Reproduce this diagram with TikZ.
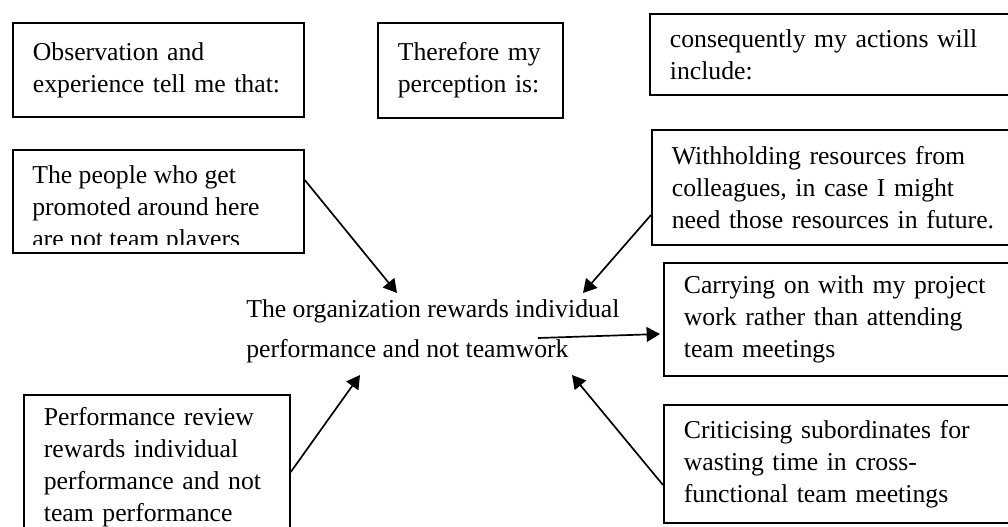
\documentclass[tikz,border=0pt]{standalone}
\usepackage{fontspec}
\setmainfont{Liberation Serif}
\usetikzlibrary{arrows.meta,calc}

\begin{document}
\begin{tikzpicture}[x=0.025cm,y=-0.025cm,
    box/.style={draw,line width=1.2pt,anchor=north west,align=left,inner xsep=0.5cm,inner ysep=0pt,
      font=\fontsize{18.3pt}{22.8pt}\selectfont},
    arr/.style={-{Triangle[length=9.5pt,width=10.5pt]},line width=1.2pt}]

    % Frame
    \clip (0,0) rectangle (1008,527);

    % Heading boxes
    \node[box,text width=6.275cm,minimum height=2.35cm] (obs) at (12,22) {Observation and\\experience tell me that:};
    \node[box,text width=3.625cm,minimum height=2.375cm] (perc) at (377,22) {Therefore my\\perception is:};
    \node[box,text width=9.5cm,minimum height=2.025cm] (cons) at (649,13) {consequently my actions will\\include:};

    % Observation boxes
    \node[box,text width=6.275cm,minimum height=2.575cm] (peoplebox) at (12,149) {};
    \begin{scope}
      \clip (12,149) rectangle (303,244);
      \node[anchor=north west,inner sep=0pt,align=left,font=\fontsize{18.3pt}{22.8pt}\selectfont] (people) at (32,165) {The people who get\\promoted around here\\are not team players};
    \end{scope}
    \node[box,text width=5.65cm,minimum height=3.6cm] (perf) at (23,394) {Performance review\\rewards individual\\performance and not\\team performance};

    % Perception
    \node[anchor=north west,inner sep=0pt,align=left,font=\fontsize{18.3pt}{28.45pt}\selectfont] (org) at (246,299) {The organization rewards individual\\performance and not teamwork};

    % Action boxes
    \node[box,text width=9.5cm,minimum height=2.875cm] (with) at (651,129) {Withholding resources from\\colleagues, in case I might\\need those resources in future.};
    \node[box,text width=9.2cm,minimum height=2.825cm] (carry) at (663,262) {Carrying on with my project\\work rather than attending\\team meetings};
    \node[box,text width=9.2cm,minimum height=2.95cm] (crit) at (663,404) {Criticising subordinates for\\wasting time in cross-\\functional team meetings};

    % Arrows
    \draw[arr] ($(peoplebox.north east)+(0,31)$) -- ($(org.north west)+(151,-6)$);
    \draw[arr] ($(with.north west)+(0,86)$) -- ($(org.north west)+(337,-6)$);
    \draw[arr] ($(org.north west)+(292,39)$) -- ($(carry.north west)+(-3,72)$);
    \draw[arr] ($(perf.north east)+(0,78)$) -- ($(org.north west)+(114,76)$);
    \draw[arr] ($(crit.north west)+(0,81)$) -- ($(org.north west)+(326,76)$);

\end{tikzpicture}
\end{document}
